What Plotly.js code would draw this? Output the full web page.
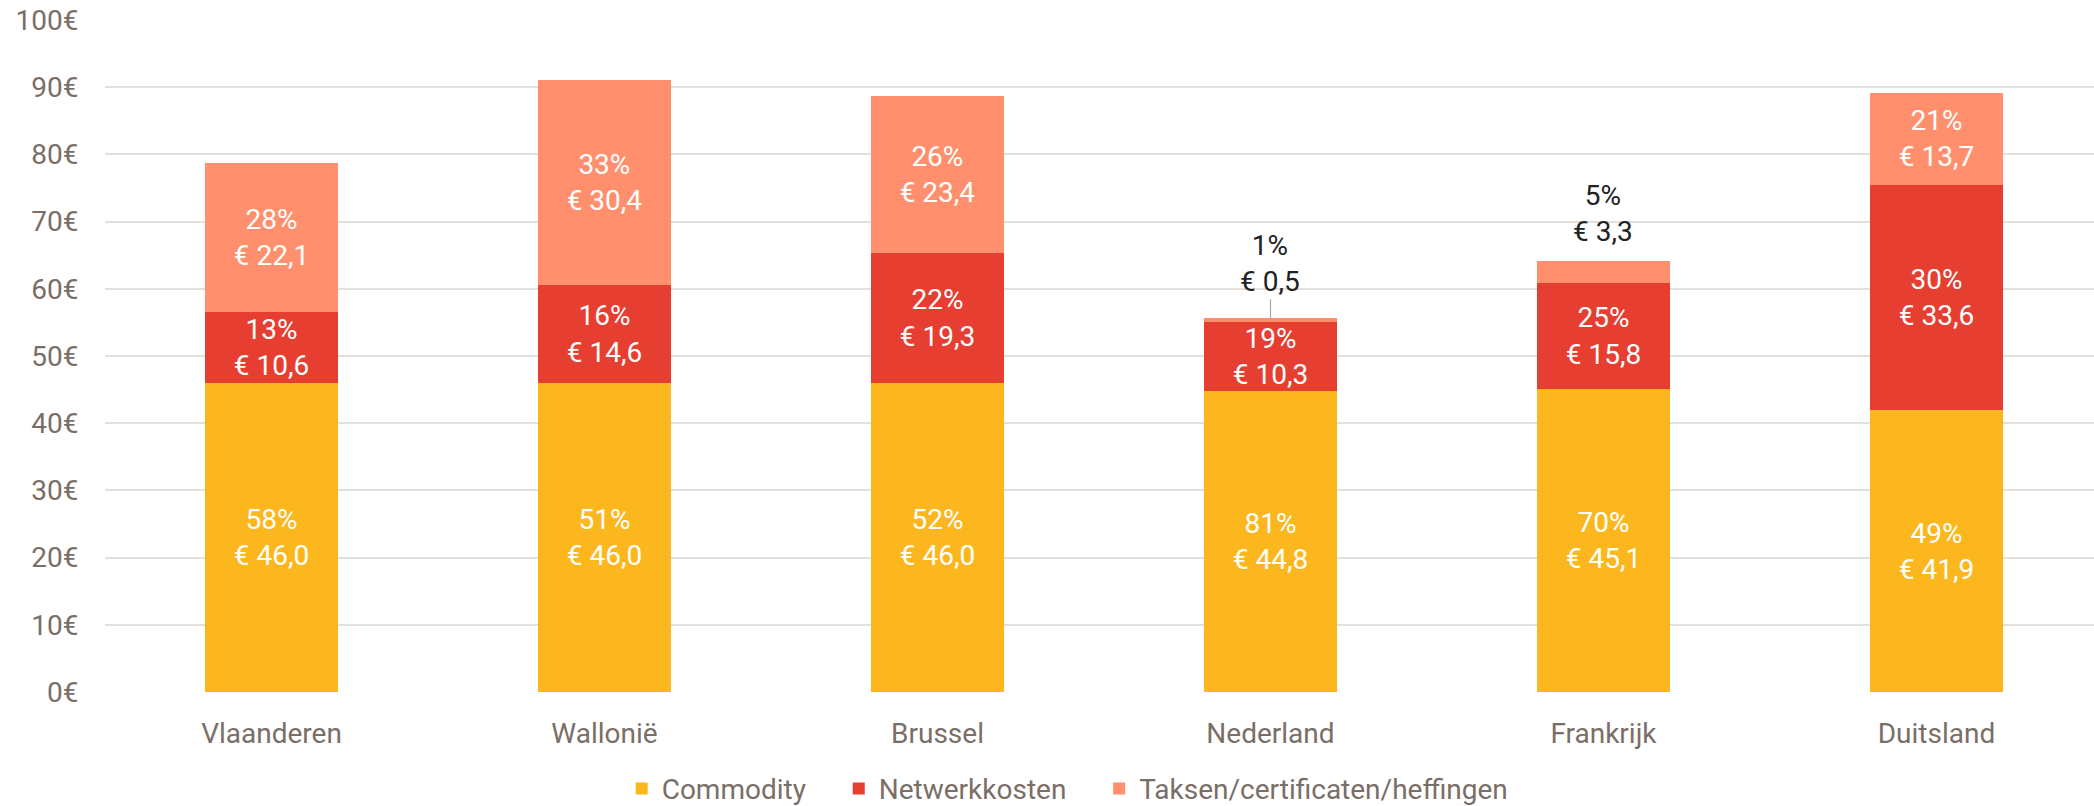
<!DOCTYPE html>
<html>
<head>
<meta charset="utf-8">
<script src="https://cdn.plot.ly/plotly-3.0.1.min.js"></script>
<style>
  html, body { margin: 0; padding: 0; background: #ffffff; }
  #chart { width: 2094px; height: 806px; }
</style>
</head>
<body>
<div id="chart"></div>
<script>
const categories = ["Vlaanderen", "Wallonië", "Brussel", "Nederland", "Frankrijk", "Duitsland"];
const commodity = [46.0, 46.0, 46.0, 44.8, 45.1, 41.9];
const netwerk = [10.6, 14.6, 19.3, 10.3, 15.8, 33.6];
const taksen = [22.1, 30.4, 23.4, 0.5, 3.3, 13.7];
const commodityPct = [58, 51, 52, 81, 70, 49];
const netwerkPct = [13, 16, 22, 19, 25, 30];
const taksenPct = [28, 33, 26, 1, 5, 21];
const outsideLabel = [false, false, false, true, true, false];
const leaderLine = [false, false, false, true, false, false];
const seriesNames = ["Commodity", "Netwerkkosten", "Taksen/certificaten/heffingen"];
const yTicks = [0, 10, 20, 30, 40, 50, 60, 70, 80, 90, 100];

const FONT = "Roboto, 'Liberation Sans', sans-serif";
const GREY = "#7a6e66";
const colors = ["#FDB71E", "#E63E30", "#FF8F6D"];
const FS = 28;
const legendPad = "\u00a0\u00a0\u00a0\u00a0";

function fmt(v) { return "€ " + v.toFixed(1).replace(".", ","); }
function labels(vals, pcts, hideMask) {
  return vals.map((v, i) => (hideMask && hideMask[i]) ? "" : pcts[i] + "%<br>" + fmt(v));
}

function barTrace(name, vals, pcts, color, hideMask, last) {
  return {
    type: "bar",
    name: last ? name : name + legendPad,
    x: categories,
    y: vals,
    text: labels(vals, pcts, hideMask),
    textposition: "inside",
    insidetextanchor: "middle",
    constraintext: "none",
    textfont: { family: FONT, size: FS, color: "#ffffff" },
    marker: { color: color, line: { width: 0 } },
    hoverinfo: "skip"
  };
}

const data = [
  barTrace(seriesNames[0], commodity, commodityPct, colors[0]),
  barTrace(seriesNames[1], netwerk, netwerkPct, colors[1]),
  barTrace(seriesNames[2], taksen, taksenPct, colors[2], outsideLabel, true)
];

const annotations = [];
categories.forEach((c, i) => {
  if (!outsideLabel[i]) return;
  const total = commodity[i] + netwerk[i] + taksen[i];
  const txt = taksenPct[i] + "%<br>" + fmt(taksen[i]);
  if (leaderLine[i]) {
    annotations.push({
      x: c, y: total, xref: "x", yref: "y",
      text: txt, showarrow: true, arrowhead: 0, arrowwidth: 1.2,
      arrowcolor: "#a8a8a8", ax: 0, ay: -55, standoff: 0,
      font: { family: FONT, size: FS, color: "#222222" }
    });
  } else {
    annotations.push({
      x: c, y: total, xref: "x", yref: "y",
      text: txt, showarrow: false, yanchor: "middle", yshift: 47,
      font: { family: FONT, size: FS, color: "#222222" }
    });
  }
});

const layout = {
  width: 2094,
  height: 806,
  margin: { l: 105, r: 0, t: 20, b: 114, autoexpand: false },
  paper_bgcolor: "#ffffff",
  plot_bgcolor: "#ffffff",
  barmode: "stack",
  bargap: 0.6,
  font: { family: FONT, size: FS, color: GREY },
  xaxis: {
    type: "category",
    range: [-0.5, 5.473],
    showgrid: false,
    showline: false,
    zeroline: false,
    ticks: "outside",
    ticklen: 16,
    tickcolor: "rgba(0,0,0,0)",
    tickfont: { family: FONT, size: FS, color: GREY },
    automargin: false,
    fixedrange: true
  },
  yaxis: {
    range: [0, 100],
    tickvals: yTicks,
    ticktext: yTicks.map(v => v + "€"),
    showgrid: true,
    gridcolor: "#e3dfdb",
    gridwidth: 2,
    zeroline: false,
    showline: false,
    ticks: "outside",
    ticklen: 20,
    tickcolor: "rgba(0,0,0,0)",
    tickfont: { family: FONT, size: FS, color: GREY },
    automargin: false,
    fixedrange: true
  },
  showlegend: true,
  legend: {
    orientation: "h",
    x: 0.484,
    xanchor: "center",
    y: -0.144,
    yanchor: "middle",
    font: { family: FONT, size: FS, color: GREY },
    traceorder: "normal",
    itemclick: false
  },
  annotations: annotations
};

Plotly.newPlot("chart", data, layout, { displayModeBar: false, staticPlot: true });
</script>
</body>
</html>
